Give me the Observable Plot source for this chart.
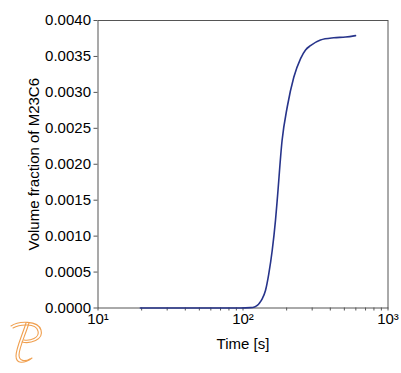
<!DOCTYPE html>
<html>
<head>
<meta charset="utf-8">
<script src="https://cdn.jsdelivr.net/npm/d3@7"></script>
<script src="https://cdn.jsdelivr.net/npm/@observablehq/plot@0.6"></script>
<style>
  html, body { margin: 0; padding: 0; background: #fff; }
  #wrap { position: relative; width: 401px; height: 373px; }
  #logo { position: absolute; left: 8px; top: 318px; }
</style>
</head>
<body>
<div id="wrap"></div>
<script>
// Time [s] (log scale) and volume fraction of M23C6
const time = [19.6, 40, 70, 96, 112.7, 120, 125.4, 130, 135.6, 142.9, 150.6, 159, 167.5, 172, 186, 202, 224, 249.5, 270, 292, 342, 423, 510, 597];
const fraction = [0, 0, 0, 0, 0.000005, 0.000015, 0.000035, 0.00007, 0.000128, 0.000243, 0.000475, 0.0008, 0.00122, 0.00149, 0.00233, 0.0028, 0.00321, 0.00347, 0.00359, 0.00365, 0.00373, 0.00376, 0.00377, 0.00379];
const xMajorTicks = [10, 100, 1000];
const xMajorLabels = ["10\u00B9", "10\u00B2", "10\u00B3"];
const xMinorTicks = [20, 30, 40, 50, 60, 70, 80, 90, 200, 300, 400, 500, 600, 700, 800, 900];
const yTicks = [0, 0.0005, 0.001, 0.0015, 0.002, 0.0025, 0.003, 0.0035, 0.004];

const data = time.map((t, i) => ({t, v: fraction[i]}));

const chart = Plot.plot({
  width: 401,
  height: 373,
  marginLeft: 97.5,
  marginRight: 13.5,
  marginTop: 20,
  marginBottom: 65.5,
  style: {fontFamily: "'Liberation Sans', Arial, sans-serif", fontSize: "15px", color: "#000", background: "#fff"},
  x: {type: "log", domain: [10, 1000]},
  y: {domain: [0, 0.004]},
  marks: [
    Plot.axisX(xMinorTicks, {tickSize: 3, tickFormat: () => "", stroke: "#555", label: null}),
    Plot.axisX(xMajorTicks, {
      tickSize: 3, tickPadding: 2, stroke: "#555",
      tickFormat: (d) => xMajorLabels[xMajorTicks.indexOf(d)],
      label: "Time [s]", labelAnchor: "center", labelArrow: "none", labelOffset: 41
    }),
    Plot.axisY(yTicks, {
      tickSize: 4, tickPadding: 3, stroke: "#555",
      tickFormat: d3.format(".4f"),
      label: "Volume fraction of M23C6", labelAnchor: "center", labelArrow: "none", labelOffset: 70
    }),
    Plot.frame({stroke: "#555"}),
    Plot.line(data, {x: "t", y: "v", stroke: "#27348b", strokeWidth: 1.6, curve: "monotone-x"})
  ]
});
document.getElementById("wrap").appendChild(chart);

// decorative logo
const ns = "http://www.w3.org/2000/svg";
const logo = document.createElementNS(ns, "svg");
logo.setAttribute("id", "logo");
logo.setAttribute("width", "40");
logo.setAttribute("height", "50");
logo.innerHTML = `
  <g fill="none" stroke="#f0a050" stroke-width="1.1" stroke-linecap="round">
    <path d="M3 8 C10 3, 30 2, 33 12 C36 22, 22 26, 14 24"/>
    <path d="M5 10 C12 6, 28 5, 30 13 C32 20, 22 23, 16 22"/>
    <path d="M18 5 C14 18, 8 30, 8 38 C8 46, 16 46, 24 40"/>
    <path d="M21 5 C17 18, 11 30, 11 37 C11 43, 17 44, 22 41"/>
  </g>`;
document.getElementById("wrap").appendChild(logo);
</script>
</body>
</html>
